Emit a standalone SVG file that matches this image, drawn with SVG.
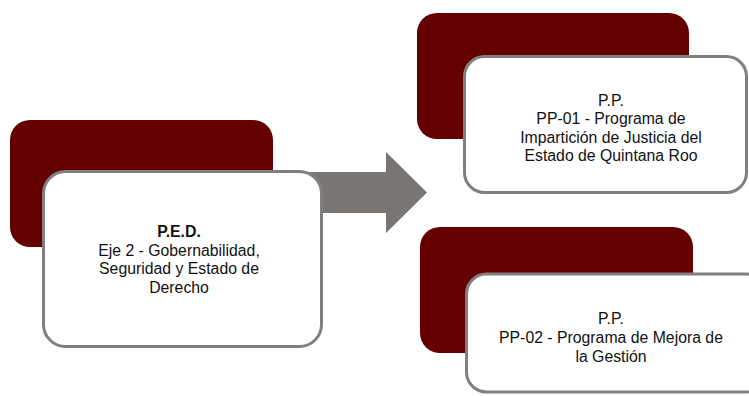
<svg xmlns="http://www.w3.org/2000/svg" width="749" height="396" viewBox="0 0 749 396">
<style>
.back{fill:#640000}
.card{fill:#ffffff;stroke:#808080;stroke-width:3}
.t{font-family:"Liberation Sans",Arial,sans-serif;font-size:15.8px;fill:#111111;text-anchor:middle}
.b{font-weight:bold}
.arrow{fill:#797573}
</style>
<rect width="749" height="396" fill="#ffffff"/>
<g id="connectors">
<polygon class="arrow" points="262,172 386,172 386,152 427,192.5 386,233 386,213 262,213"/>
</g>
<g id="node-ped">
<rect class="back" x="10" y="120" width="263" height="127" rx="20"/>
<rect class="card" x="43.5" y="171.5" width="278" height="175" rx="22"/>
<text class="t b" x="179" y="237">P.E.D.</text>
<text class="t" x="179" y="255.5">Eje 2 - Gobernabilidad,</text>
<text class="t" x="179" y="274">Seguridad y Estado de</text>
<text class="t" x="179" y="292.5">Derecho</text>
</g>
<g id="node-pp01">
<rect class="back" x="417" y="13" width="272" height="126" rx="20"/>
<rect class="card" x="464.5" y="56.5" width="282" height="136" rx="20"/>
<text class="t" x="611" y="105.5">P.P.</text>
<text class="t" x="611" y="124">PP-01 - Programa de</text>
<text class="t" x="611" y="142.5">Impartición de Justicia del</text>
<text class="t" x="611" y="161">Estado de Quintana Roo</text>
</g>
<g id="node-pp02">
<rect class="back" x="420" y="227" width="273" height="126" rx="20"/>
<rect class="card" x="466.5" y="274" width="300" height="118" rx="20"/>
<text class="t" x="611" y="324">P.P.</text>
<text class="t" x="611" y="343">PP-02 - Programa de Mejora de</text>
<text class="t" x="611" y="362">la Gestión</text>
</g>
</svg>
